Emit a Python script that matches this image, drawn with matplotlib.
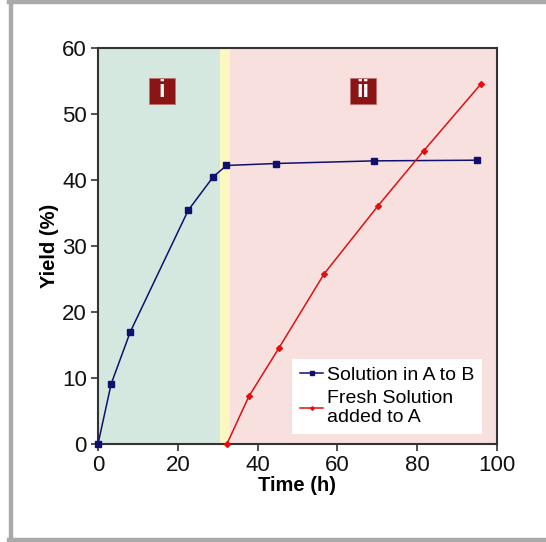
import numpy as np
import matplotlib
matplotlib.use('Agg')
import matplotlib.pyplot as plt
from matplotlib.patches import Rectangle
from matplotlib.lines import Line2D

plt.rcParams['font.family'] = ['Liberation Sans', 'DejaVu Sans']

# data
time_ab = [0, 3.3, 8.1, 22.6, 28.9, 32.2, 44.5, 69.2, 95.0]
yield_ab = [0, 9.1, 17.0, 35.4, 40.5, 42.2, 42.5, 42.9, 43.0]
time_fresh = [32.3, 37.8, 45.4, 56.7, 70.2, 81.6, 95.9]
yield_fresh = [0, 7.2, 14.6, 25.8, 36.1, 44.4, 54.5]
labels = ["Solution in A to B", "Fresh Solution\nadded to A"]

# shaded stages (h)
stage_i = (0, 30.5)
stage_gap = (30.5, 33.2)
stage_ii = (33.2, 100)

fig = plt.figure(figsize=(5.46, 5.42), dpi=100)
ax = fig.add_axes([98 / 546, 1 - 444 / 542, 399 / 546, 396 / 542])

ax.axvspan(*stage_i, color='#d5e8df', lw=0, zorder=0)
ax.axvspan(*stage_gap, color='#faf8c0', lw=0, zorder=0)
ax.axvspan(*stage_ii, color='#f7e0de', lw=0, zorder=0)

ax.plot(time_ab, yield_ab, color='#101070', lw=1.1, marker='s', ms=4.5,
        label=labels[0], zorder=3, clip_on=False)
ax.plot(time_fresh, yield_fresh, color='#e01010', lw=1.1, marker='D', ms=3,
        label=labels[1], zorder=3, clip_on=False)

# stage boxes (square, fixed size)
bw, bh = 26 / 399, 26 / 396
for xc, txt in [(0.16, 'i'), (0.664, 'ii')]:
    yc = 53.5 / 60
    ax.add_patch(Rectangle((xc - bw / 2, yc - bh / 2), bw, bh, transform=ax.transAxes,
                           fc='#8b1414', ec='#c07070', lw=0.6, zorder=4))
    ax.text(xc, yc, txt, color='white', fontsize=17, fontweight='bold',
            ha='center', va='center', zorder=5, transform=ax.transAxes)

ax.set_xlim(0, 100)
ax.set_ylim(0, 60)
ax.set_xticks(range(0, 101, 20))
ax.set_yticks(range(0, 61, 10))
ax.tick_params(direction='out', length=5, width=1.2, labelsize=16, pad=3,
               color='#333333', labelcolor='#111111')
for s in ax.spines.values():
    s.set_linewidth(1.5)
    s.set_color('#333333')
ax.set_xlabel('Time (h)', fontsize=14.5, fontweight='bold', labelpad=0)
ax.set_ylabel('Yield (%)', fontsize=14.5, fontweight='bold', labelpad=2)

leg = ax.legend(loc='lower right', bbox_to_anchor=(0.963, 0.025), fontsize=14,
                frameon=True, fancybox=False, handlelength=1.2, handletextpad=0.2,
                borderpad=0.4, labelspacing=0.3, markerscale=0.6, borderaxespad=0)
leg.get_frame().set_facecolor('white')
leg.get_frame().set_edgecolor('none')
leg.get_frame().set_alpha(1)

# gray outer frame
fig.add_artist(Line2D([11 / 546, 11 / 546], [0, 1], color='#aaaaaa', lw=3.2,
                      transform=fig.transFigure))
fig.add_artist(Line2D([9 / 546, 1], [1 - 1.5 / 542, 1 - 1.5 / 542], color='#aaaaaa', lw=3.2,
                      transform=fig.transFigure))
fig.add_artist(Line2D([9 / 546, 1], [2 / 542, 2 / 542], color='#aaaaaa', lw=3.2,
                      transform=fig.transFigure))

fig.savefig('out.png', dpi=100)
